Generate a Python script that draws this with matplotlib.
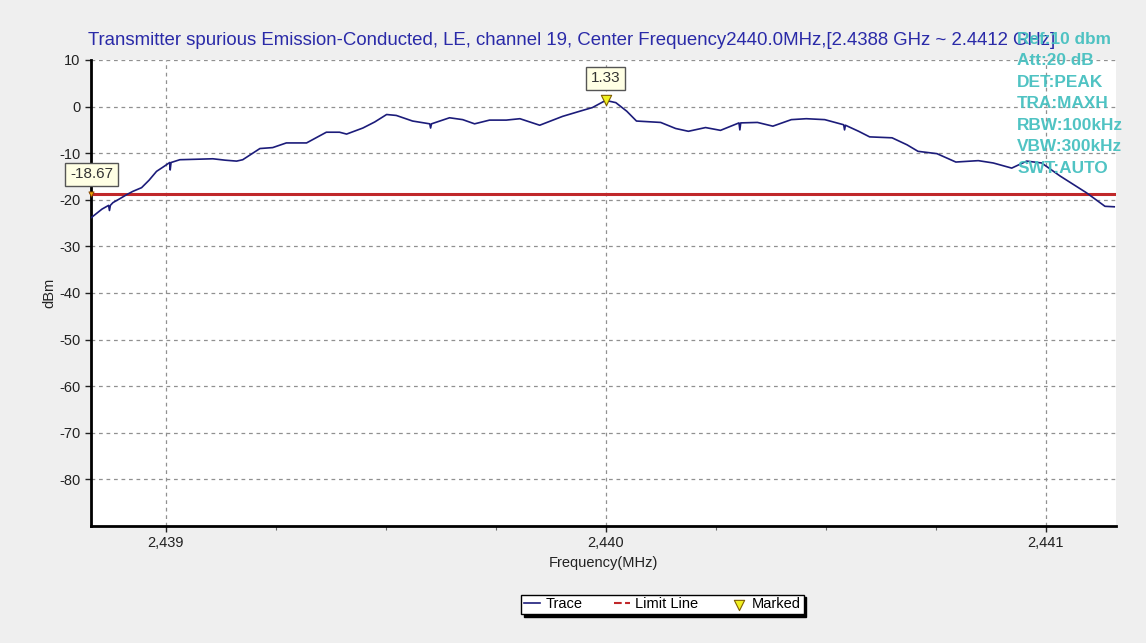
import matplotlib
matplotlib.use("Agg")
import matplotlib.pyplot as plt
from matplotlib.ticker import FixedLocator, MultipleLocator

plt.rcParams['font.family'] = ['Liberation Sans', 'DejaVu Sans']
plt.rcParams['axes.unicode_minus'] = False

# ---- data ----
freq_mhz = [2438.831, 2438.855, 2438.870, 2438.872, 2438.874, 2438.880, 2438.895, 2438.911, 2438.925,
            2438.945, 2438.962, 2438.979, 2438.995, 2439.009, 2439.010, 2439.012, 2439.032, 2439.070,
            2439.107, 2439.135, 2439.161, 2439.175, 2439.214, 2439.243, 2439.274, 2439.320, 2439.365,
            2439.395, 2439.411, 2439.448, 2439.475, 2439.502, 2439.524, 2439.561, 2439.600, 2439.602,
            2439.604, 2439.645, 2439.675, 2439.702, 2439.736, 2439.774, 2439.805, 2439.850, 2439.902,
            2439.941, 2439.970, 2440.000, 2440.023, 2440.048, 2440.070, 2440.125, 2440.159, 2440.188,
            2440.227, 2440.261, 2440.303, 2440.305, 2440.307, 2440.345, 2440.380, 2440.422, 2440.456,
            2440.498, 2440.541, 2440.543, 2440.545, 2440.575, 2440.600, 2440.651, 2440.685, 2440.710,
            2440.753, 2440.796, 2440.847, 2440.881, 2440.923, 2440.957, 2440.991, 2441.033, 2441.093,
            2441.135, 2441.156]
trace_dbm = [-23.8, -22.0, -21.2, -22.3, -21.2, -20.6, -19.8, -18.9, -18.2,
             -17.4, -15.8, -13.9, -12.9, -12.0, -13.6, -12.0, -11.4, -11.3,
             -11.2, -11.5, -11.7, -11.4, -9.0, -8.8, -7.8, -7.8, -5.5,
             -5.5, -5.9, -4.6, -3.3, -1.7, -1.9, -3.1, -3.7, -4.6,
             -3.7, -2.4, -2.8, -3.7, -2.9, -2.9, -2.6, -4.0, -2.1,
             -1.0, -0.2, 1.33, 0.85, -1.0, -3.1, -3.4, -4.7, -5.3,
             -4.5, -5.1, -3.5, -5.0, -3.5, -3.4, -4.2, -2.8, -2.6,
             -2.8, -3.9, -5.0, -4.0, -5.3, -6.5, -6.7, -8.2, -9.6,
             -10.1, -11.9, -11.6, -12.1, -13.2, -11.7, -12.1, -14.9, -18.5,
             -21.4, -21.5]
limit_dbm = -18.67
peak_freq = 2440.000
peak_dbm = 1.33
x_ticks = [2439, 2440, 2441]
x_tick_labels = ['2,439', '2,440', '2,441']
y_ticks = [10, 0, -10, -20, -30, -40, -50, -60, -70, -80]
title = ("Transmitter spurious Emission-Conducted, LE, channel 19, "
         "Center Frequency2440.0MHz,[2.4388 GHz ~ 2.4412 GHz]")
settings = ["Ref:10 dbm", "Att:20 dB", "DET:PEAK", "TRA:MAXH",
            "RBW:100kHz", "VBW:300kHz", "SWT:AUTO"]

# ---- figure ----
fig = plt.figure(figsize=(11.46, 6.43), dpi=100, facecolor='#efefef')
ax = fig.add_axes([0.0794, 0.182, 0.8944, 0.7247])
ax.set_facecolor('white')

ax.set_xlim(2438.83, 2441.16)
ax.set_ylim(-90, 10)

ax.xaxis.set_major_locator(FixedLocator(x_ticks))
ax.set_xticklabels(x_tick_labels)
ax.xaxis.set_minor_locator(MultipleLocator(0.25))
ax.yaxis.set_major_locator(FixedLocator(y_ticks))

ax.grid(True, which='major', linestyle=(0, (3, 3)), color='#909090', linewidth=0.9)

for s in ['top', 'right']:
    ax.spines[s].set_visible(False)
for s in ['left', 'bottom']:
    ax.spines[s].set_linewidth(2)
    ax.spines[s].set_color('black')

ax.tick_params(axis='both', which='major', labelsize=10.5, colors='#222222', length=4, width=1)
ax.tick_params(axis='x', which='minor', length=3, width=0.8, colors='#666666')

# trace
tr, = ax.plot(freq_mhz, trace_dbm, color='#1c1c7a', linewidth=1.2, label='Trace', zorder=4)
# limit line
ax.axhline(limit_dbm, color='#c0282a', linewidth=2.2, zorder=3)
lim_handle, = ax.plot([], [], color='#c0282a', linestyle='--', linewidth=1.5, label='Limit Line')
# marker
mk = ax.scatter([peak_freq], [peak_dbm], marker='v', s=55, facecolor='#f0f020',
                edgecolor='#806000', linewidth=0.8, zorder=6, label='Marked')
ax.scatter([freq_mhz[0]], [limit_dbm], marker='v', s=14, facecolor='#f0a000',
           edgecolor='#804000', linewidth=0.6, zorder=6, clip_on=False)

bbox_props = dict(boxstyle='square,pad=0.3', facecolor='#ffffe4', edgecolor='#555555', linewidth=1)
ax.annotate(f"{peak_dbm:.2f}", xy=(peak_freq, peak_dbm), xytext=(0, 16),
            textcoords='offset points', ha='center', va='center', fontsize=11,
            color='#333333', bbox=bbox_props, zorder=7)
ax.annotate(f"{limit_dbm:.2f}", xy=(freq_mhz[0], limit_dbm), xytext=(0, 14),
            textcoords='offset points', ha='center', va='center', fontsize=11,
            color='#333333', bbox=bbox_props, zorder=7, annotation_clip=False)

ax.set_xlabel('Frequency(MHz)', fontsize=10.5, color='#222222', labelpad=4)
ax.set_ylabel('dBm', fontsize=10.5, color='#222222', labelpad=2)

fig.text(0.0768, 0.937, title, fontsize=13.4, color='#2a2aa8', ha='left', va='center')

for i, s in enumerate(settings):
    fig.text(0.8875, 0.939 - i * 0.0334, s, fontsize=12.4, color='#46c0c0',
             fontweight='bold', ha='left', va='center', alpha=0.95, zorder=10)

leg = fig.legend(handles=[tr, lim_handle, mk], loc='center', bbox_to_anchor=(0.578, 0.06),
                 ncol=3, fontsize=10.5, frameon=True, fancybox=False, edgecolor='black',
                 facecolor='white', shadow={'color': 'black', 'alpha': 1.0},
                 handlelength=1.1, handletextpad=0.35, columnspacing=2.2,
                 borderpad=0.2, scatterpoints=1)
leg.get_frame().set_linewidth(1)

fig.savefig('out.png', dpi=100, facecolor=fig.get_facecolor())
